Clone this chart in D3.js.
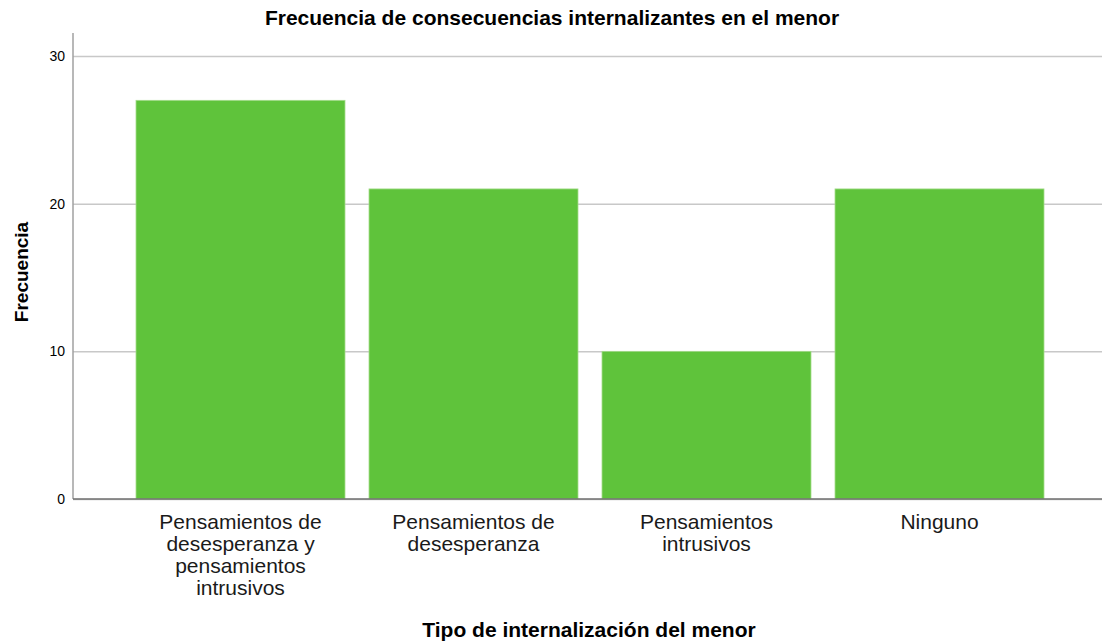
<!DOCTYPE html>
<html>
<head>
<meta charset="utf-8">
<script src="https://cdn.jsdelivr.net/npm/d3@7"></script>
<style>
    body { margin: 0; background: #fff; }
    svg { font-family: "Liberation Sans", Arial, sans-serif; }
</style>
</head>
<body>
<div id="chart"></div>
<script>
// Data
var categories = [
    "Pensamientos de desesperanza y pensamientos intrusivos",
    "Pensamientos de desesperanza",
    "Pensamientos intrusivos",
    "Ninguno"
];
var frequencies = [27, 21, 10, 21];
var yTicks = [0, 10, 20, 30];

var chartTitle = "Frecuencia de consecuencias internalizantes en el menor";
var xTitle = "Tipo de internalización del menor";
var yTitle = "Frecuencia";

var W = 1102, H = 641;
var plotLeft = 73, plotRight = 1102, plotTop = 33, plotBottom = 499;

var svg = d3.select("#chart").append("svg")
    .attr("width", W)
    .attr("height", H);

// Scales
var xScale = d3.scaleBand()
    .domain(categories)
    .range([124, 1056])
    .paddingInner(0.103)
    .paddingOuter(0.0515);

var yScale = d3.scaleLinear()
    .domain([0, 31.56])
    .range([plotBottom, plotTop]);

// Gridlines + tick labels
var yAxis = svg.append("g")
    .attr("transform", "translate(" + plotLeft + ",0)")
    .call(d3.axisLeft(yScale).tickValues(yTicks).tickSize(-(plotRight - plotLeft)).tickPadding(8));
yAxis.select(".domain").remove();
yAxis.selectAll(".tick line")
    .attr("stroke", "#c8c8c8")
    .attr("stroke-width", 1.5);
yAxis.selectAll(".tick text")
    .attr("fill", "#000")
    .style("font-size", "14px")
    .attr("font-family", null);

// Bars
svg.selectAll("rect.bar")
    .data(frequencies)
    .enter()
    .append("rect")
    .attr("class", "bar")
    .attr("x", function (d, i) { return xScale(categories[i]); })
    .attr("y", function (d) { return yScale(d); })
    .attr("width", xScale.bandwidth())
    .attr("height", function (d) { return yScale(0) - yScale(d); })
    .attr("fill", "#5fc33b")
    .attr("stroke", "#a5dc8c")
    .attr("stroke-width", 0.8);

// Axis lines
svg.append("line")
    .attr("x1", plotLeft).attr("x2", plotLeft)
    .attr("y1", plotTop).attr("y2", plotBottom)
    .attr("stroke", "#a0a0a0")
    .attr("stroke-width", 1.5);
svg.append("line")
    .attr("x1", plotLeft).attr("x2", plotRight)
    .attr("y1", plotBottom).attr("y2", plotBottom)
    .attr("stroke", "#707070")
    .attr("stroke-width", 1.5);

// Category labels, wrapped to the bar width
var xAxis = svg.append("g")
    .attr("transform", "translate(0," + plotBottom + ")")
    .call(d3.axisBottom(xScale).tickSize(0).tickPadding(0));
xAxis.select(".domain").remove();
xAxis.selectAll(".tick text")
    .attr("font-family", null)
    .style("font-size", "21px")
    .attr("fill", "#1a1a1a")
    .each(function () { wrap(d3.select(this), xScale.bandwidth()); });

function wrap(text, width) {
    var words = text.text().split(/\s+/);
    text.text(null).attr("dy", null);
    var lines = [], line = [];
    var tspan = text.append("tspan").attr("x", 0).attr("y", 30);
    words.forEach(function (w) {
        line.push(w);
        tspan.text(line.join(" "));
        if (tspan.node().getComputedTextLength() > width && line.length > 1) {
            line.pop();
            lines.push(line.join(" "));
            line = [w];
        }
    });
    lines.push(line.join(" "));
    tspan.remove();
    lines.forEach(function (l, i) {
        text.append("tspan").attr("x", 0).attr("y", 30 + i * 22).text(l);
    });
}

// Titles
svg.append("text")
    .attr("x", 552)
    .attr("y", 25)
    .attr("text-anchor", "middle")
    .style("font-size", "21px")
    .style("font-weight", "bold")
    .text(chartTitle);

svg.append("text")
    .attr("x", 589)
    .attr("y", 637)
    .attr("text-anchor", "middle")
    .style("font-size", "21px")
    .style("font-weight", "bold")
    .text(xTitle);

svg.append("text")
    .attr("transform", "translate(28," + 272 + ")rotate(-90)")
    .attr("text-anchor", "middle")
    .style("font-size", "19px")
    .style("font-weight", "bold")
    .text(yTitle);
</script>
</body>
</html>
